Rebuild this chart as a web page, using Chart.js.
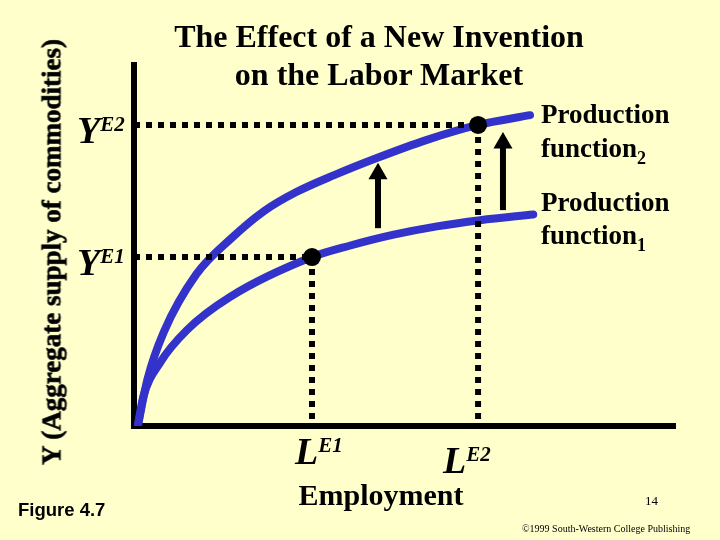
<!DOCTYPE html>
<html>
<head>
<meta charset="utf-8">
<script src="https://cdn.jsdelivr.net/npm/chart.js@4"></script>
<style>
  body { margin: 0; background: #FFFFCC; }
  #wrap { position: relative; width: 720px; height: 540px; background: #FFFFCC; overflow: hidden; }
  #chart { position: absolute; left: 0; top: 0; }
  .t { position: absolute; font-family: "Liberation Serif", "Times New Roman", serif; font-weight: bold; color: #000; line-height: 1; white-space: nowrap; }
  .lbl { font-style: italic; }
  .lbl .big { font-size: 38px; }
  .lbl .sup { font-size: 21px; position: relative; top: -12px; }
  .sub { font-size: 18px; position: relative; top: 7px; }
</style>
</head>
<body>
<div id="wrap">
  <canvas id="chart" width="720" height="540"></canvas>

  <div class="t" style="left:129px; top:20px; width:500px; text-align:center; font-size:32px;">The Effect of a New Invention</div>
  <div class="t" style="left:129px; top:58px; width:500px; text-align:center; font-size:32px;">on the Labor Market</div>

  <div class="t" style="left:541px; top:101px; font-size:27px;">Production</div>
  <div class="t" style="left:541px; top:135px; font-size:27px;">function<span class="sub">2</span></div>
  <div class="t" style="left:541px; top:189px; font-size:27px;">Production</div>
  <div class="t" style="left:541px; top:222px; font-size:27px;">function<span class="sub">1</span></div>

  <div class="t lbl" style="left:77px; top:111px;"><span class="big">Y</span><span class="sup">E2</span></div>
  <div class="t lbl" style="left:77px; top:243px;"><span class="big">Y</span><span class="sup">E1</span></div>
  <div class="t lbl" style="left:295px; top:432px;"><span class="big">L</span><span class="sup">E1</span></div>
  <div class="t lbl" style="left:443px; top:441px;"><span class="big">L</span><span class="sup">E2</span></div>

  <div class="t" style="left:231px; top:480px; width:300px; text-align:center; font-size:30px;">Employment</div>

  <div class="t" style="left:52px; top:252px; font-size:27px; -webkit-text-stroke:0.6px #000; transform: translate(-50%, -50%) rotate(-90deg);">Y (Aggregate supply of commodities)</div>

  <div class="t" style="left:18px; top:501px; font-family:'Liberation Sans', Arial, sans-serif; font-size:18.5px;">Figure 4.7</div>
  <div class="t" style="left:645px; top:494px; font-weight:normal; font-size:13px;">14</div>
  <div class="t" style="left:522px; top:524px; font-weight:normal; font-size:10px;">©1999 South-Western College Publishing</div>
</div>

<script>
// Production functions (x = employment, y = output)
const prod2X = [0.7, 2.5, 5.5, 11.5, 18, 24, 30, 37, 45, 54, 63.6, 73.2];
const prod2Y = [0, 13, 26, 42, 52, 59.5, 64.8, 69.5, 74.3, 79.2, 83.4, 86.1];

const prod1X = [0.7, 1.7, 4.8, 9.8, 17.7, 32.9, 40, 48, 56, 64, 73.8];
const prod1Y = [0, 8, 17.5, 26.6, 35.7, 46.8, 50, 53, 55.3, 57, 58.6];

// Equilibrium points E1, E2
const eqX = [32.9, 63.6];
const eqY = [46.8, 83.4];

// Upward shift arrows: x, base, tip
const arrowX    = [45.1, 68.2];
const arrowBase = [54.8, 59.8];
const arrowTip  = [72.9, 81.4];

const BLUE = "#3333CC";

function pts(xs, ys) {
  return xs.map((x, i) => ({ x: x, y: ys[i] }));
}

const datasets = [];

// dots on top
datasets.push({
  data: pts(eqX, eqY),
  showLine: false,
  pointRadius: 9,
  pointBackgroundColor: "#000",
  pointBorderWidth: 0,
  order: 0,
});

// dotted guides to axes
eqX.forEach((x, i) => {
  datasets.push({
    data: [{ x: 0, y: eqY[i] }, { x: x, y: eqY[i] }],
    borderColor: "#000",
    borderWidth: 6,
    borderDash: [6, 6],
    borderCapStyle: "butt",
    pointRadius: 0,
    order: 1,
  });
  datasets.push({
    data: [{ x: x, y: eqY[i] }, { x: x, y: 0 }],
    borderColor: "#000",
    borderWidth: 6,
    borderDash: [6, 6],
    borderCapStyle: "butt",
    pointRadius: 0,
    order: 1,
  });
});

// arrows: shaft + triangle head
arrowX.forEach((x, i) => {
  datasets.push({
    data: [{ x: x, y: arrowBase[i] }, { x: x, y: arrowTip[i] - 3 }],
    borderColor: "#000",
    borderWidth: 6,
    borderCapStyle: "butt",
    pointRadius: 0,
    order: 1,
  });
  datasets.push({
    data: [{ x: x, y: arrowTip[i] - 3 }],
    showLine: false,
    pointStyle: "triangle",
    pointRadius: 11,
    pointBackgroundColor: "#000",
    pointBorderWidth: 0,
    order: 1,
  });
});

// the two production function curves
[[prod2X, prod2Y], [prod1X, prod1Y]].forEach(([xs, ys]) => {
  datasets.push({
    data: pts(xs, ys),
    borderColor: BLUE,
    borderWidth: 8,
    cubicInterpolationMode: "monotone",
    borderCapStyle: "round",
    pointRadius: 0,
    order: 2,
  });
});

new Chart(document.getElementById("chart"), {
  type: "line",
  data: { datasets: datasets },
  options: {
    responsive: false,
    animation: false,
    events: [],
    layout: { padding: { left: 126, right: 45, top: 65, bottom: 106 } },
    plugins: { legend: { display: false }, tooltip: { enabled: false } },
    scales: {
      x: {
        type: "linear",
        min: 0,
        max: 100,
        ticks: { display: false },
        grid: { display: false },
        border: { display: true, color: "#000", width: 6 },
      },
      y: {
        type: "linear",
        min: 0,
        max: 100,
        ticks: { display: false },
        grid: { display: false },
        border: { display: true, color: "#000", width: 6 },
      },
    },
  },
});
</script>
</body>
</html>
